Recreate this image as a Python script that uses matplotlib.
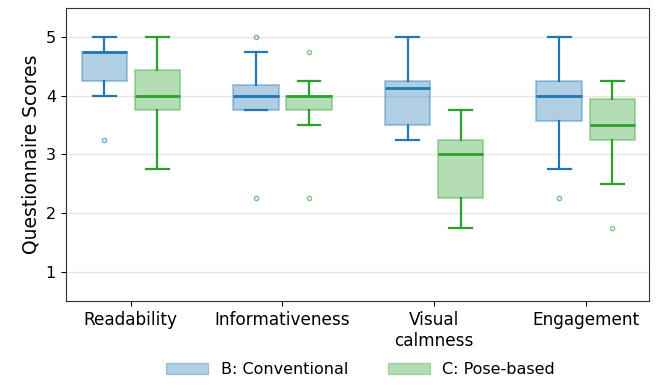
import matplotlib.pyplot as plt
import numpy as np
from matplotlib.patches import Patch

CATEGORIES = ["Readability", "Informativeness", "Visual\ncalmness", "Engagement"]
GROUPS = ["B: Conventional", "C: Pose-based"]
COLORS = ["#1f77b4", "#2ca02c"]

# per-category box summaries: whisker low, q1, median, q3, whisker high
B_WHISLO = [4.0, 3.75, 3.25, 2.75]
B_Q1 = [4.25, 3.75, 3.5, 3.5625]
B_MED = [4.75, 4.0, 4.125, 4.0]
B_Q3 = [4.75, 4.1875, 4.25, 4.25]
B_WHISHI = [5.0, 4.75, 5.0, 5.0]
B_FLIERS = [[3.25], [2.25, 5.0], [], [2.25]]

C_WHISLO = [2.75, 3.5, 1.75, 2.5]
C_Q1 = [3.75, 3.75, 2.25, 3.25]
C_MED = [4.0, 4.0, 3.0, 3.5]
C_Q3 = [4.4375, 4.0, 3.25, 3.9375]
C_WHISHI = [5.0, 4.25, 3.75, 4.25]
C_FLIERS = [[], [2.25, 4.75], [], [1.75]]


def make_stats(whislo, q1, med, q3, whishi, fliers):
    return [
        dict(whislo=a, q1=b, med=c, q3=d, whishi=e, fliers=f)
        for a, b, c, d, e, f in zip(whislo, q1, med, q3, whishi, fliers)
    ]


stats = [
    make_stats(B_WHISLO, B_Q1, B_MED, B_Q3, B_WHISHI, B_FLIERS),
    make_stats(C_WHISLO, C_Q1, C_MED, C_Q3, C_WHISHI, C_FLIERS),
]

fig, ax = plt.subplots(figsize=(6.56, 3.86), dpi=100)
x = np.arange(len(CATEGORIES))
offsets = [-0.175, 0.175]

for st, off, color in zip(stats, offsets, COLORS):
    ax.bxp(
        st,
        positions=x + off,
        widths=0.3,
        patch_artist=True,
        boxprops=dict(facecolor=color, alpha=0.35, edgecolor=color, linewidth=1.5),
        medianprops=dict(color=color, linewidth=2),
        whiskerprops=dict(color=color, linewidth=1.6),
        capprops=dict(color=color, linewidth=1.6),
        flierprops=dict(marker="o", markersize=3, markerfacecolor="none",
                        markeredgecolor=color, alpha=0.6),
        manage_ticks=False,
    )

ax.set_xticks(x)
ax.set_xticklabels(CATEGORIES, fontsize=12.2)
ax.set_xlim(-0.43, 3.42)
ax.set_ylim(0.5, 5.5)
ax.set_yticks([1, 2, 3, 4, 5])
ax.tick_params(axis="y", labelsize=11.5)
ax.set_ylabel("Questionnaire Scores", fontsize=13.5)
ax.grid(axis="y", color="#e6e6e6", linewidth=1)
ax.set_axisbelow(True)
for sp in ax.spines.values():
    sp.set_color("#333333")

handles = [Patch(facecolor=c, edgecolor=c, alpha=0.35) for c in COLORS]
fig.legend(handles, GROUPS, loc="lower center", ncol=2, frameon=False,
           fontsize=11.5, handlelength=2.6, columnspacing=2.5,
           bbox_to_anchor=(0.55, -0.015))

fig.subplots_adjust(left=0.1, right=0.99, top=0.98, bottom=0.22)
fig.savefig("out.png", facecolor="white")
